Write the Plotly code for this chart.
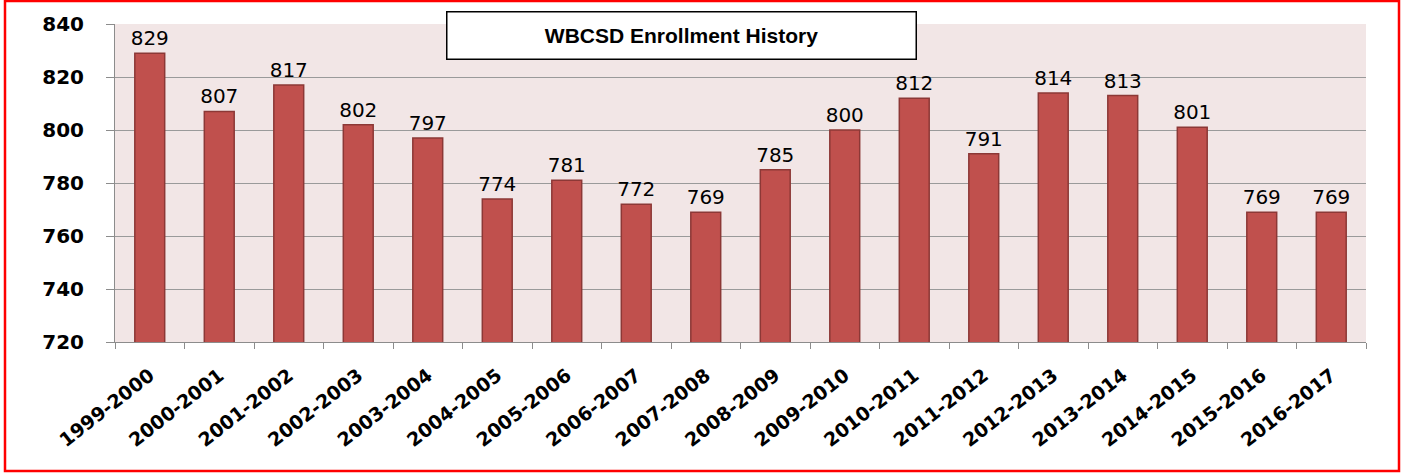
import plotly.graph_objects as go

years = ["1999-2000", "2000-2001", "2001-2002", "2002-2003", "2003-2004", "2004-2005",
         "2005-2006", "2006-2007", "2007-2008", "2008-2009", "2009-2010", "2010-2011",
         "2011-2012", "2012-2013", "2013-2014", "2014-2015", "2015-2016", "2016-2017"]
enrollment = [829, 807, 817, 802, 797, 774, 781, 772, 769, 785, 800, 812, 791, 814, 813, 801, 769, 769]
y_ticks = [720, 740, 760, 780, 800, 820, 840]
title_text = "WBCSD Enrollment History"

fig = go.Figure(go.Bar(
    x=years, y=enrollment,
    width=0.43,
    marker=dict(color="#C0504D", line=dict(color="#8C3836", width=1.5)),
    text=[str(v) for v in enrollment],
    textposition="outside",
    constraintext="none",
    textfont=dict(family="DejaVu Sans", size=20, color="black"),
    cliponaxis=False,
))

fig.update_layout(
    width=1405, height=476,
    margin=dict(l=115, r=39, t=24, b=134),
    paper_bgcolor="white",
    plot_bgcolor="#F2E6E6",
    showlegend=False,
    xaxis=dict(
        tickangle=-38,
        tickfont=dict(family="DejaVu Sans", size=19, color="black", weight="bold"),
        showline=True, linecolor="#8C8C8C", linewidth=1,
        ticks="outside", ticklen=6, tickcolor="#8C8C8C",
        tickson="boundaries",
        showgrid=False,
        ticklabelstandoff=14,
    ),
    yaxis=dict(
        range=[720, 840],
        tickvals=y_ticks,
        tickfont=dict(family="DejaVu Sans", size=20, color="black", weight="bold"),
        showline=True, linecolor="#8C8C8C", linewidth=1,
        ticks="outside", ticklen=8, tickcolor="#8C8C8C",
        gridcolor="#9A9A9A", gridwidth=1,
        ticklabelstandoff=18,
    ),
    shapes=[dict(
        type="rect", xref="paper", yref="paper",
        x0=(5 - 115) / 1251, x1=(1399 - 115) / 1251,
        y0=(342 - 471) / 318, y1=(342 - 1) / 318,
        line=dict(color="red", width=2.5), fillcolor="rgba(0,0,0,0)", layer="above",
    )],
    annotations=[dict(
        text="<b>" + title_text + "</b>",
        xref="paper", yref="paper",
        x=(681 - 115) / 1251, y=(342 - 35) / 318,
        xanchor="center", yanchor="middle",
        showarrow=False,
        width=466, height=44,
        bgcolor="white", bordercolor="black", borderwidth=1.5,
        font=dict(family="Liberation Sans", size=21, color="black"),
    )],
)

fig.write_html("out.html", config={"displayModeBar": False},
               post_script="document.body.style.margin='0';")
